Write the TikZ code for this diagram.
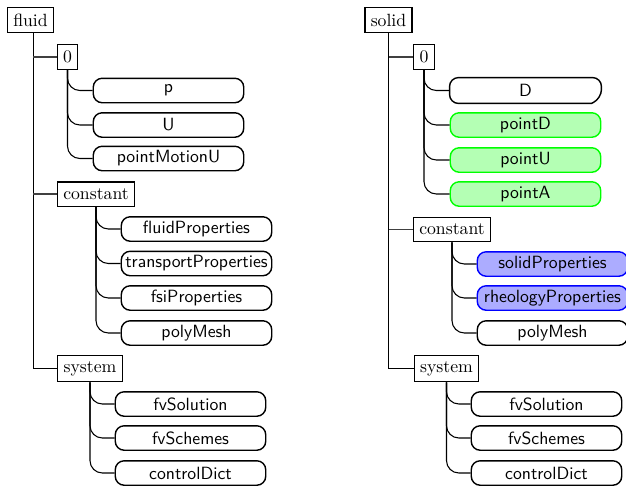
\documentclass[tikz,border=0pt]{standalone}
\usetikzlibrary{calc}
\definecolor{gfill}{RGB}{180,255,180}
\definecolor{bfill}{RGB}{172,172,255}
\tikzset{
  dirbox/.style={draw, thick, fill=white, inner sep=3.3pt, minimum height=13.8pt, font=\rmfamily},
  filebox/.style={draw, thick, fill=white, rounded corners=5pt, minimum width=85pt, minimum height=13.8pt, inner sep=1.5pt, font=\sffamily},
  trunk/.style={draw, semithick},
  twig/.style={draw, black!75, semithick},
  branch/.style={draw, semithick, rounded corners=7pt},
}
\begin{document}
\begin{tikzpicture}[x=0.565pt, y=-0.565pt]
\useasboundingbox (0,0) rectangle (626,487);
% ---- fluid tree ----
\node[dirbox] (fluid) at (30.5,20) {fluid};
\node[dirbox] (f0) at (67.5,57) {0};
\node[dirbox] (fconst) at (96,194) {constant};
\node[dirbox] (fsys) at (90,368.5) {system};
\node[filebox] (fp) at (168.5,90.5) {p};
\node[filebox] (fU) at (168.5,125) {U};
\node[filebox] (fpm) at (168.5,158.5) {pointMotionU};
\node[filebox] (ffp) at (196.5,229) {fluidProperties};
\node[filebox] (ftp) at (196.5,263.5) {transportProperties};
\node[filebox] (ffsi) at (196.5,298) {fsiProperties};
\node[filebox] (fpoly) at (196.5,333) {polyMesh};
\node[filebox] (ffvsol) at (190.5,404) {fvSolution};
\node[filebox] (ffvsch) at (190.5,438) {fvSchemes};
\node[filebox] (fctrl) at (190.5,473) {controlDict};
\path[trunk] ([xshift=1.5]fluid.south) |- (fsys.west);
\path[twig] ([xshift=1.5]fluid.south |- f0.west) -- (f0.west);
\path[twig] ([xshift=1.5]fluid.south |- fconst.west) -- (fconst.west);
\foreach \c in {fp,fU,fpm} \path[branch] (f0.south) |- (\c.west);
\foreach \c in {ffp,ftp,ffsi,fpoly} \path[branch] (fconst.south) |- (\c.west);
\foreach \c in {ffvsol,ffvsch,fctrl} \path[branch] (fsys.south) |- (\c.west);
% ---- solid tree ----
\node[dirbox] (solid) at (388.5,20) {solid};
\node[dirbox] (s0) at (424,57) {0};
\node[dirbox] (sconst) at (452,229.5) {constant};
\node[dirbox] (ssys) at (446.5,368.5) {system};
\node[filebox, draw=none] (sD) at (525.5,90.5) {D};
\draw[thick, rounded corners=5pt] ($(sD.south east)+(-10,0)$) -- (sD.south west) -- (sD.north west) -- (sD.north east) -- ($(sD.south east)+(0,-5)$) [sharp corners] -- ($(sD.south east)+(-10,0)$);
\node[filebox, draw=green, fill=gfill] (spD) at (525.5,125) {pointD};
\node[filebox, draw=green, fill=gfill] (spU) at (525.5,160) {pointU};
\node[filebox, draw=green, fill=gfill] (spA) at (525.5,194) {pointA};
\node[filebox, draw=blue, fill=bfill] (ssp) at (552.5,264) {solidProperties};
\node[filebox, draw=blue, fill=bfill] (srp) at (552.5,298) {rheologyProperties};
\node[filebox] (spoly) at (552.5,333) {polyMesh};
\node[filebox] (sfvsol) at (546.5,404) {fvSolution};
\node[filebox] (sfvsch) at (546.5,438) {fvSchemes};
\node[filebox] (sctrl) at (546.5,473) {controlDict};
\path[trunk] (solid.south) |- (ssys.west);
\path[twig] (solid.south |- s0.west) -- (s0.west);
\path[twig] (solid.south |- sconst.west) -- (sconst.west);
\foreach \c in {sD,spD,spU,spA} \path[branch] (s0.south) |- (\c.west);
\foreach \c in {ssp,srp,spoly} \path[branch] (sconst.south) |- (\c.west);
\foreach \c in {sfvsol,sfvsch,sctrl} \path[branch] (ssys.south) |- (\c.west);
\end{tikzpicture}
\end{document}
